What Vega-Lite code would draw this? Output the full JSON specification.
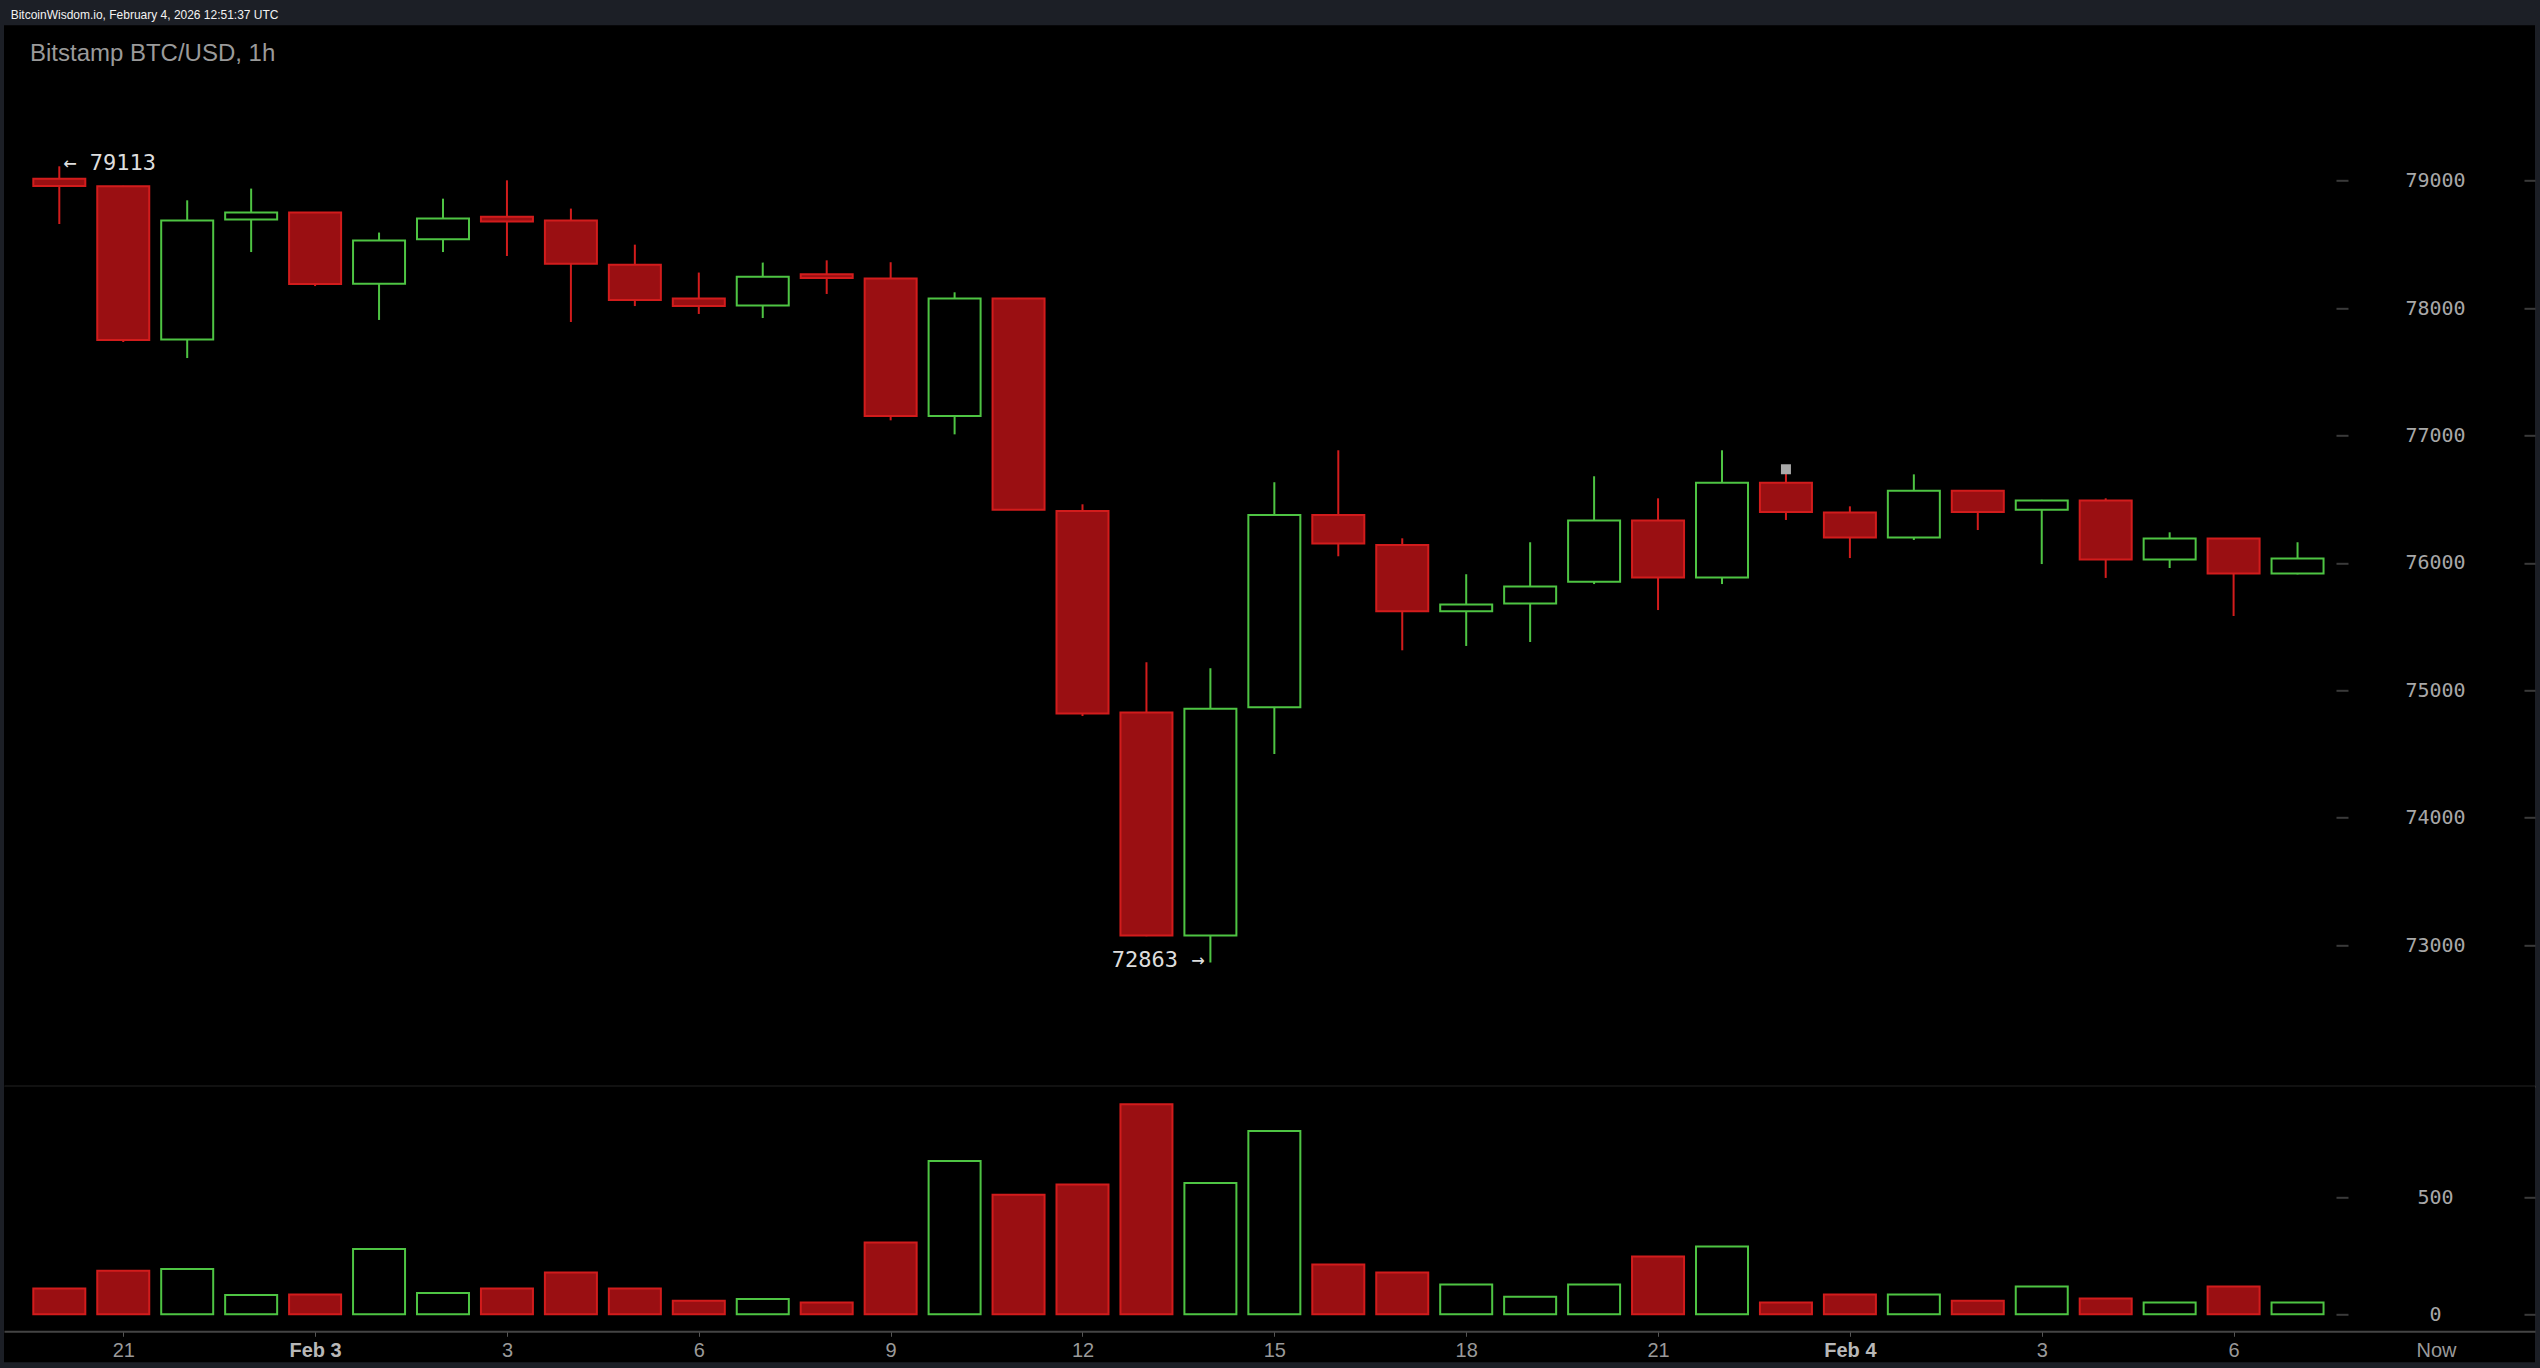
{
  "$schema": "https://vega.github.io/schema/vega-lite/v6.json",
  "background": "#1c1f26",
  "padding": {"left": 4, "top": 8.3, "right": 5, "bottom": 6},
  "autosize": {"type": "pad"},
  "title": {
    "text": "BitcoinWisdom.io, February 4, 2026 12:51:37 UTC",
    "anchor": "start", "frame": "group", "orient": "top",
    "offset": -5.5, "baseline": "alphabetic", "dx": 6.7,
    "font": "Liberation Sans", "fontSize": 12, "fontWeight": "normal", "color": "#f2f2f2"
  },
  "spacing": 0,
  "bounds": "flush",
  "datasets": {
    "candles": [
      {"i": 0, "open": 79016, "high": 79113, "low": 78660, "close": 78958, "vol": 110, "dir": "down"},
      {"i": 1, "open": 78956, "high": 78960, "low": 77734, "close": 77750, "vol": 186, "dir": "down"},
      {"i": 2, "open": 77753, "high": 78846, "low": 77608, "close": 78687, "vol": 193, "dir": "up"},
      {"i": 3, "open": 78695, "high": 78938, "low": 78440, "close": 78750, "vol": 82, "dir": "up"},
      {"i": 4, "open": 78750, "high": 78752, "low": 78173, "close": 78189, "vol": 84, "dir": "down"},
      {"i": 5, "open": 78192, "high": 78593, "low": 77907, "close": 78530, "vol": 278, "dir": "up"},
      {"i": 6, "open": 78540, "high": 78859, "low": 78440, "close": 78703, "vol": 91, "dir": "up"},
      {"i": 7, "open": 78718, "high": 79003, "low": 78409, "close": 78679, "vol": 110, "dir": "down"},
      {"i": 8, "open": 78687, "high": 78781, "low": 77891, "close": 78349, "vol": 178, "dir": "down"},
      {"i": 9, "open": 78341, "high": 78498, "low": 78016, "close": 78064, "vol": 110, "dir": "down"},
      {"i": 10, "open": 78075, "high": 78279, "low": 77954, "close": 78016, "vol": 58, "dir": "down"},
      {"i": 11, "open": 78020, "high": 78357, "low": 77922, "close": 78247, "vol": 65, "dir": "up"},
      {"i": 12, "open": 78265, "high": 78375, "low": 78111, "close": 78236, "vol": 50, "dir": "down"},
      {"i": 13, "open": 78232, "high": 78360, "low": 77119, "close": 77153, "vol": 306, "dir": "down"},
      {"i": 14, "open": 77153, "high": 78124, "low": 77009, "close": 78075, "vol": 653, "dir": "up"},
      {"i": 15, "open": 78075, "high": 78080, "low": 76415, "close": 76418, "vol": 510, "dir": "down"},
      {"i": 16, "open": 76407, "high": 76460, "low": 74798, "close": 74817, "vol": 553, "dir": "down"},
      {"i": 17, "open": 74825, "high": 75220, "low": 73070, "close": 73075, "vol": 895, "dir": "down"},
      {"i": 18, "open": 73075, "high": 75173, "low": 72863, "close": 74856, "vol": 560, "dir": "up"},
      {"i": 19, "open": 74867, "high": 76633, "low": 74500, "close": 76376, "vol": 781, "dir": "up"},
      {"i": 20, "open": 76376, "high": 76884, "low": 76052, "close": 76152, "vol": 212, "dir": "down"},
      {"i": 21, "open": 76141, "high": 76193, "low": 75314, "close": 75620, "vol": 178, "dir": "down"},
      {"i": 22, "open": 75620, "high": 75911, "low": 75348, "close": 75673, "vol": 127, "dir": "up"},
      {"i": 23, "open": 75681, "high": 76162, "low": 75379, "close": 75814, "vol": 75, "dir": "up"},
      {"i": 24, "open": 75853, "high": 76680, "low": 75834, "close": 76332, "vol": 127, "dir": "up"},
      {"i": 25, "open": 76332, "high": 76507, "low": 75630, "close": 75885, "vol": 246, "dir": "down"},
      {"i": 26, "open": 75885, "high": 76884, "low": 75834, "close": 76630, "vol": 289, "dir": "up"},
      {"i": 27, "open": 76630, "high": 76740, "low": 76337, "close": 76400, "vol": 50, "dir": "down"},
      {"i": 28, "open": 76395, "high": 76444, "low": 76038, "close": 76199, "vol": 84, "dir": "down"},
      {"i": 29, "open": 76199, "high": 76695, "low": 76180, "close": 76567, "vol": 84, "dir": "up"},
      {"i": 30, "open": 76567, "high": 76570, "low": 76258, "close": 76400, "vol": 58, "dir": "down"},
      {"i": 31, "open": 76418, "high": 76495, "low": 75991, "close": 76489, "vol": 118, "dir": "up"},
      {"i": 32, "open": 76489, "high": 76507, "low": 75882, "close": 76026, "vol": 67, "dir": "down"},
      {"i": 33, "open": 76026, "high": 76240, "low": 75960, "close": 76191, "vol": 50, "dir": "up"},
      {"i": 34, "open": 76191, "high": 76195, "low": 75583, "close": 75916, "vol": 118, "dir": "down"},
      {"i": 35, "open": 75916, "high": 76162, "low": 75910, "close": 76034, "vol": 50, "dir": "up"}
    ],
    "hi": [{"i": 0, "p": 79113, "label": "← 79113"}],
    "lo": [{"i": 18, "p": 72863, "label": "72863 →"}],
    "marker": [{"i": 27, "p": 76735}]
  },
  "vconcat": [
    {
      "width": 2531,
      "height": 1061,
      "title": {
        "text": "Bitstamp BTC/USD, 1h",
        "anchor": "start", "frame": "group", "orient": "top",
        "offset": -59.5, "baseline": "alphabetic", "dx": 26,
        "font": "Liberation Sans", "fontSize": 24, "fontWeight": "normal", "color": "#9a9a9a"
      },
      "layer": [
        {
          "data": {"name": "candles"},
          "mark": {"type": "rule", "strokeWidth": 2},
          "encoding": {
            "x": {"field": "i", "type": "quantitative",
              "scale": {"domain": [-0.8647, 38.7131], "nice": false, "zero": false, "padding": 0},
              "axis": {"orient": "bottom", "domainColor": "#444444", "domainWidth": 2, "ticks": false, "labels": false, "grid": false, "title": null}},
            "y": {"field": "low", "type": "quantitative",
              "scale": {"domain": [71891.7, 80219.8], "nice": false, "zero": false, "padding": 0},
              "axis": {"orient": "right", "offset": -199, "values": [73000, 74000, 75000, 76000, 77000, 78000, 79000], "format": "d",
                "tickSize": 12, "tickColor": "#3a3a3a", "tickWidth": 2, "domain": false, "grid": false,
                "labelFont": "DejaVu Sans Mono", "labelFontSize": 20, "labelColor": "#a8a8a8",
                "labelAlign": "center", "labelBaseline": "middle", "labelPadding": 87, "title": null}},
            "y2": {"field": "high"},
            "stroke": {"field": "dir", "type": "nominal", "scale": {"domain": ["up", "down"], "range": ["#4ec443", "#d21c1c"]}, "legend": null}
          }
        },
        {
          "data": {"name": "candles"},
          "mark": {"type": "bar", "width": 52, "strokeWidth": 2},
          "encoding": {
            "x": {"field": "i", "type": "quantitative"},
            "y": {"field": "open", "type": "quantitative", "axis": null},
            "y2": {"field": "close"},
            "fill": {"field": "dir", "type": "nominal", "scale": {"domain": ["up", "down"], "range": ["#000000", "#9a0f12"]}, "legend": null},
            "stroke": {"field": "dir", "type": "nominal", "scale": {"domain": ["up", "down"], "range": ["#4ec443", "#d21c1c"]}, "legend": null}
          }
        },
        {
          "data": {"name": "hi"},
          "mark": {"type": "text", "align": "left", "baseline": "middle", "dx": 4, "dy": -3, "font": "DejaVu Sans Mono", "fontSize": 22, "fill": "#dddddd"},
          "encoding": {
            "x": {"field": "i", "type": "quantitative"},
            "y": {"field": "p", "type": "quantitative", "axis": null},
            "text": {"field": "label"}
          }
        },
        {
          "data": {"name": "lo"},
          "mark": {"type": "text", "align": "right", "baseline": "middle", "dx": -6, "dy": -3, "font": "DejaVu Sans Mono", "fontSize": 22, "fill": "#dddddd"},
          "encoding": {
            "x": {"field": "i", "type": "quantitative"},
            "y": {"field": "p", "type": "quantitative", "axis": null},
            "text": {"field": "label"}
          }
        },
        {
          "data": {"name": "marker"},
          "mark": {"type": "square", "size": 100, "filled": true, "color": "#aaaaaa", "opacity": 1},
          "encoding": {
            "x": {"field": "i", "type": "quantitative"},
            "y": {"field": "p", "type": "quantitative", "axis": null}
          }
        },
        {
          "data": {"name": "candles"},
          "mark": {"type": "rule", "opacity": 0},
          "encoding": {
            "y": {"field": "low", "type": "quantitative",
              "axis": {"orient": "right", "offset": -11, "values": [73000, 74000, 75000, 76000, 77000, 78000, 79000],
                "tickSize": 11, "tickColor": "#3a3a3a", "tickWidth": 2, "domain": false, "grid": false, "labels": false, "title": null}}
          }
        }
      ],
      "resolve": {"axis": {"y": "independent"}, "scale": {"y": "shared"}}
    },
    {
      "width": 2531,
      "height": 276,
      "layer": [
        {
          "data": {"name": "candles"},
          "mark": {"type": "bar", "width": 52, "strokeWidth": 2},
          "encoding": {
            "x": {"field": "i", "type": "quantitative",
              "scale": {"domain": [-0.8647, 38.7131], "nice": false, "zero": false, "padding": 0},
              "axis": {"orient": "bottom", "offset": -31,
                "values": [1, 4, 7, 10, 13, 16, 19, 22, 25, 28, 31, 34, 37.165],
                "labelExpr": "datum.value == 1 ? '21' : datum.value == 4 ? 'Feb 3' : datum.value == 7 ? '3' : datum.value == 10 ? '6' : datum.value == 13 ? '9' : datum.value == 16 ? '12' : datum.value == 19 ? '15' : datum.value == 22 ? '18' : datum.value == 25 ? '21' : datum.value == 28 ? 'Feb 4' : datum.value == 31 ? '3' : datum.value == 34 ? '6' : 'Now'",
                "domainColor": "#444444", "domainWidth": 2,
                "tickColor": "#555555", "tickSize": 5, "tickWidth": 1,
                "tickOpacity": {"condition": {"test": "datum.value > 37", "value": 0}, "value": 1},
                "labelFont": "Liberation Sans", "labelFontSize": 20,
                "labelColor": {"condition": {"test": "datum.value == 4 || datum.value == 28", "value": "#b8b8b8"}, "value": "#9a9a9a"},
                "labelFontWeight": {"condition": {"test": "datum.value == 4 || datum.value == 28", "value": "bold"}, "value": "normal"},
                "labelPadding": 4, "labelFlush": false, "labelOverlap": false, "grid": false, "title": null}},
            "y": {"field": "vol", "type": "quantitative",
              "scale": {"domain": [-204.6, 971.9], "nice": false, "zero": false, "padding": 0},
              "axis": {"orient": "right", "offset": -199, "values": [0, 500], "format": "d",
                "tickSize": 12, "tickColor": "#3a3a3a", "tickWidth": 2, "domain": false, "grid": false,
                "labelFont": "DejaVu Sans Mono", "labelFontSize": 20, "labelColor": "#a8a8a8",
                "labelAlign": "center", "labelBaseline": "middle", "labelPadding": 87, "title": null}},
            "y2": {"datum": 0},
            "fill": {"field": "dir", "type": "nominal", "scale": {"domain": ["up", "down"], "range": ["#000000", "#9a0f12"]}, "legend": null},
            "stroke": {"field": "dir", "type": "nominal", "scale": {"domain": ["up", "down"], "range": ["#4ec443", "#d21c1c"]}, "legend": null}
          }
        },
        {
          "data": {"name": "candles"},
          "mark": {"type": "rule", "opacity": 0},
          "encoding": {
            "y": {"field": "vol", "type": "quantitative",
              "axis": {"orient": "right", "offset": -11, "values": [0, 500],
                "tickSize": 11, "tickColor": "#3a3a3a", "tickWidth": 2, "domain": false, "grid": false, "labels": false, "title": null}}
          }
        }
      ],
      "resolve": {"axis": {"y": "independent"}, "scale": {"y": "shared"}}
    }
  ],
  "config": {
    "view": {"fill": "#000000", "stroke": null}
  }
}
